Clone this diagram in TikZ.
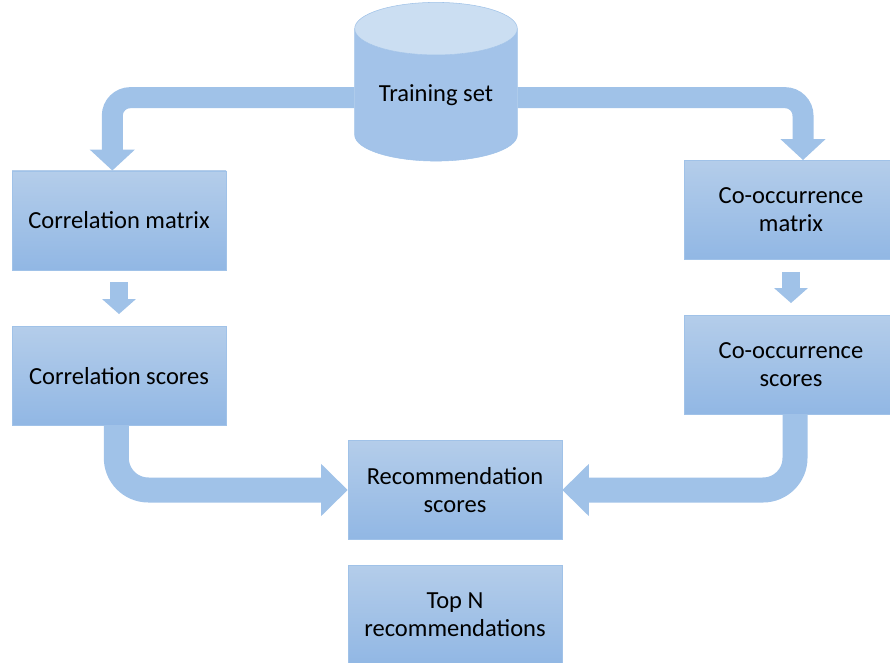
\documentclass[tikz,border=0pt]{standalone}
\usepackage{fontspec}
\setmainfont{Carlito}
\usetikzlibrary{shapes.geometric,arrows.meta,positioning}
\definecolor{boxtop}{RGB}{180,205,234}
\definecolor{boxbot}{RGB}{145,183,228}
\definecolor{boxline}{RGB}{160,194,232}
\definecolor{arrowfill}{RGB}{160,194,232}
\definecolor{drumend}{RGB}{203,222,242}
\definecolor{drumbody}{RGB}{163,195,233}

\begin{document}
\begin{tikzpicture}[x=0.75pt,y=-0.75pt,font=\fontsize{18.4}{21}\selectfont,
  box/.style={draw=boxline,top color=boxtop,bottom color=boxbot,minimum width=160.5pt,minimum height=74.5pt,align=center,inner sep=0pt},
  drum/.style={cylinder,shape border rotate=90,aspect=0.46,draw=boxline,cylinder uses custom fill,cylinder body fill=drumbody,cylinder end fill=drumend,minimum width=122pt,minimum height=119pt,inner sep=0pt},
  fat/.style={-{Triangle[length=15.75pt,width=33pt]},line width=15.75pt,draw=arrowfill,rounded corners=13.5pt},
  fatter/.style={-{Triangle[length=20pt,width=38pt]},line width=18.75pt,draw=arrowfill,rounded corners=24pt},
  thin/.style={-{Triangle[length=11.25pt,width=24.75pt]},line width=13.5pt,draw=arrowfill,shorten <=9pt,shorten >=9pt}]
\useasboundingbox (0,0) rectangle (890,663);
\clip (0,0) rectangle (890,663);
\node[drum] (train) at (436,95) {Training set};
\node[box] (corrmat) at (119,220.5) {Correlation matrix};
\node[box] (corrsc) at (119,376) {Correlation scores};
\node[box] (coomat) at (791,210) {Co-occurrence\\matrix};
\node[box] (coosc) at (791,365) {Co-occurrence\\scores};
\node[box] (recsc) at (455,490) {Recommendation\\scores};
\node[box] (topn) at (455,615) {Top N\\recommendations};
\draw[fat] ([yshift=-2pt]train.west) -| ([xshift=-5pt]corrmat.north);
\draw[fat] ([yshift=-2pt]train.east) -| ([xshift=9pt]coomat.north);
\draw[thin] (corrmat) -- (corrsc);
\draw[thin] (coomat) -- (coosc);
\draw[fatter] ([xshift=-2pt]corrsc.south) |- (recsc.west);
\draw[fatter] ([xshift=3pt]coosc.south) |- (recsc.east);
\end{tikzpicture}
\end{document}
